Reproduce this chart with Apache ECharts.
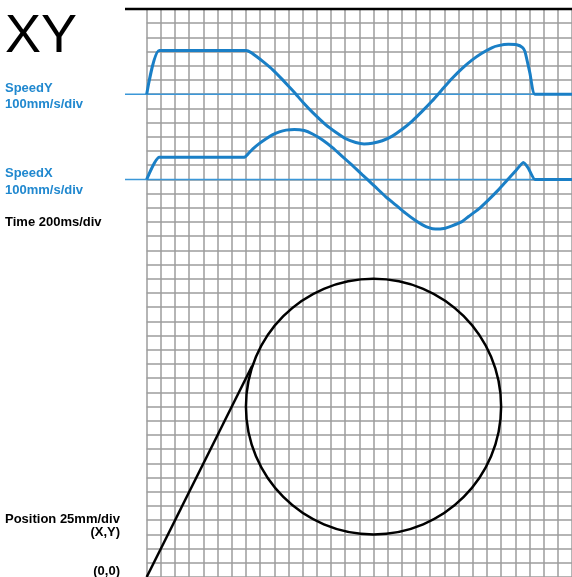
<!DOCTYPE html>
<html>
<head>
<meta charset="utf-8">
<script src="https://cdn.jsdelivr.net/npm/echarts@6/dist/echarts.min.js"></script>
<style>
  html, body { margin: 0; padding: 0; background: #fff; }
  #chart { width: 572px; height: 577px; }
</style>
</head>
<body>
<div id="chart"></div>
<script>
// ---- Speed traces (time in ms, speed in mm/s) ----
const speedYTime  = [0, 177, 1404, 1474, 1545, 1638, 1779, 1919, 2059, 2106, 2200, 2340, 2528, 2668, 2809, 2949, 3066, 3183, 3323, 3464, 3604, 3745, 3885, 4026, 4166, 4307, 4447, 4588, 4728, 4868, 4962, 5103, 5220, 5299, 5337, 5407, 5477, 6000];
const speedYValue = [0, 307, 307, 293, 267, 231, 172, 101, 26, 0, -55, -128, -216, -268, -314, -340, -350, -345, -328, -295, -247, -189, -121, -48, 31, 110, 180, 240, 288, 327, 342, 351, 348, 330, 300, 147, 0, 0];

const speedXTime  = [0, 177, 1381, 1427, 1498, 1591, 1685, 1779, 1872, 1966, 2083, 2223, 2340, 2481, 2621, 2762, 2902, 3043, 3113, 3230, 3370, 3511, 3651, 3792, 3885, 3979, 4073, 4190, 4307, 4447, 4541, 4681, 4822, 4962, 5056, 5196, 5313, 5383, 5477, 6000];
const speedXValue = [0, 156, 156, 178, 215, 254, 287, 315, 335, 347, 352, 344, 320, 278, 224, 161, 98, 32, 0, -55, -121, -179, -238, -290, -318, -340, -350, -346, -327, -297, -261, -210, -144, -74, -22, 55, 119, 79, 0, 0];

// ---- Tool path in the XY plane (mm) ----
const pathLineX = [0, 186];
const pathLineY = [0, 372];
const circleCenter = [400, 300];
const circleRadius = 225;

// ---- Axis scales ----
const positionStep = 25;          // 25 mm per division
const positionX = [0, 750];
const positionY = [0, 1000];
const timeRange = [0, 6000];      // 200 ms per division
const speedYRange = [-3400, 600]; // 100 mm/s per division
const speedXRange = [-2800, 1200];

const zip = (a, b) => a.map((v, i) => [v, b[i]]);

const BLUE = '#1a7fc6';
const BLUE_TEXT = '#2088cf';
const GRID_GRAY = '#9c9c9c';
const LABEL_FONT = 'bold 13px "Liberation Sans", Arial, sans-serif';

const chart = echarts.init(document.getElementById('chart'), null, { renderer: 'canvas' });

const hiddenAxis = {
  axisLine: { show: false }, axisTick: { show: false },
  axisLabel: { show: false }, splitLine: { show: false }
};

chart.setOption({
  animation: false,
  backgroundColor: '#fff',
  grid: { left: 146.7, top: 9, width: 427.2, height: 568.4, containLabel: false },
  xAxis: [
    {
      type: 'value', min: positionX[0], max: positionX[1], interval: positionStep,
      axisLine: { show: false }, axisTick: { show: false }, axisLabel: { show: false },
      splitLine: { show: true, lineStyle: { color: GRID_GRAY, width: 1.5 } }
    },
    Object.assign({ type: 'value', min: timeRange[0], max: timeRange[1] }, hiddenAxis)
  ],
  yAxis: [
    {
      type: 'value', min: positionY[0], max: positionY[1], interval: positionStep,
      axisLine: { show: false }, axisTick: { show: false }, axisLabel: { show: false },
      splitLine: { show: true, lineStyle: { color: GRID_GRAY, width: 1.5 } }
    },
    Object.assign({ type: 'value', min: speedYRange[0], max: speedYRange[1] }, hiddenAxis),
    Object.assign({ type: 'value', min: speedXRange[0], max: speedXRange[1] }, hiddenAxis)
  ],
  series: [
    {
      name: 'SpeedY', type: 'line', xAxisIndex: 1, yAxisIndex: 1,
      data: zip(speedYTime, speedYValue), symbol: 'none', smooth: 0.15,
      lineStyle: { color: BLUE, width: 3 }, z: 5
    },
    {
      name: 'SpeedX', type: 'line', xAxisIndex: 1, yAxisIndex: 2,
      data: zip(speedXTime, speedXValue), symbol: 'none', smooth: 0.15,
      lineStyle: { color: BLUE, width: 3 }, z: 5
    },
    {
      name: 'Approach', type: 'line', xAxisIndex: 0, yAxisIndex: 0,
      data: zip(pathLineX, pathLineY), symbol: 'none',
      lineStyle: { color: '#000', width: 2.5 }, z: 5
    },
    {
      name: 'Circle', type: 'custom', xAxisIndex: 0, yAxisIndex: 0,
      data: [[circleCenter[0], circleCenter[1], circleRadius]],
      encode: { x: 0, y: 1 },
      z: 5,
      renderItem: function (params, api) {
        const c = api.coord([api.value(0), api.value(1)]);
        const s = api.size([api.value(2), api.value(2)]);
        return {
          type: 'ellipse',
          shape: { cx: c[0], cy: c[1], rx: s[0], ry: s[1] },
          style: { fill: 'none', stroke: '#000', lineWidth: 2.5 }
        };
      }
    }
  ]
});

// Zero lines of the speed channels and the top rule, placed through the axes
const yZeroSpeedY = chart.convertToPixel({ yAxisIndex: 1 }, 0);
const yZeroSpeedX = chart.convertToPixel({ yAxisIndex: 2 }, 0);
const yTop = chart.convertToPixel({ yAxisIndex: 0 }, positionY[1]);
const ruleLeft = 125, ruleRight = 572;

function text(str, x, y, opts) {
  return {
    type: 'text', x: x, y: y, z: 20,
    style: Object.assign({
      text: str, font: LABEL_FONT, fill: '#000',
      textAlign: 'left', textVerticalAlign: 'middle'
    }, opts || {})
  };
}

chart.setOption({
  graphic: [
    { type: 'line', z: 3, shape: { x1: ruleLeft, y1: yZeroSpeedY, x2: ruleRight, y2: yZeroSpeedY },
      style: { stroke: '#3b97d8', lineWidth: 1.5 } },
    { type: 'line', z: 3, shape: { x1: ruleLeft, y1: yZeroSpeedX, x2: ruleRight, y2: yZeroSpeedX },
      style: { stroke: '#3b97d8', lineWidth: 1.5 } },
    { type: 'line', z: 10, shape: { x1: ruleLeft, y1: yTop, x2: ruleRight, y2: yTop },
      style: { stroke: '#000', lineWidth: 2.5 } },

    text('XY', 5, 37, { font: '54px "Liberation Sans", Arial, sans-serif' }),
    text('SpeedY', 5, 88, { fill: BLUE_TEXT }),
    text('100mm/s/div', 5, 104, { fill: BLUE_TEXT }),
    text('SpeedX', 5, 173, { fill: BLUE_TEXT }),
    text('100mm/s/div', 5, 190, { fill: BLUE_TEXT }),
    text('Time 200ms/div', 5, 222),
    text('Position 25mm/div', 5, 519),
    text('(X,Y)', 120, 532, { textAlign: 'right' }),
    text('(0,0)', 120, 571, { textAlign: 'right' })
  ]
});
</script>
</body>
</html>
